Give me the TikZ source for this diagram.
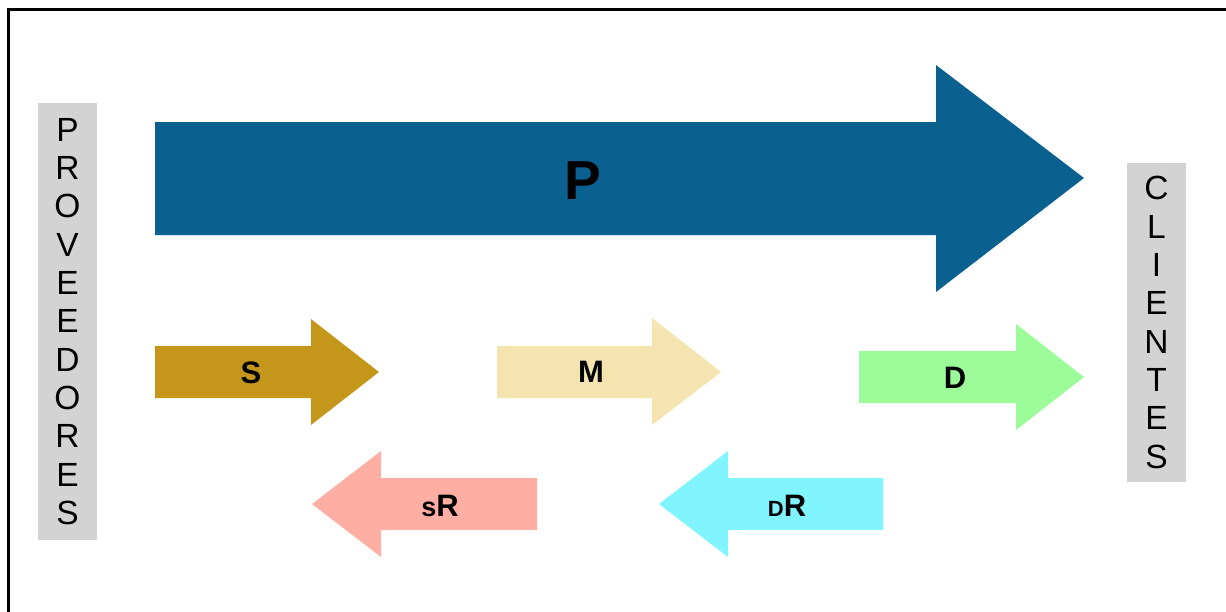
\documentclass[tikz,border=0pt]{standalone}
\usepackage{fontspec}
\setmainfont{Liberation Sans}
\definecolor{pblue}{HTML}{0A6190}
\definecolor{sgold}{HTML}{C4961A}
\definecolor{mwheat}{HTML}{F5E3B0}
\definecolor{dgreen}{HTML}{9CFC9A}
\definecolor{srsalmon}{HTML}{FFAEA4}
\definecolor{drcyan}{HTML}{80F4FF}
\definecolor{sidegray}{HTML}{D3D3D3}
\tikzset{
  sidebox/.style={fill=sidegray, minimum width=59pt, inner sep=0pt, align=center,
    font=\fontsize{33.5}{38.3}\selectfont},
  arrlabel/.style={font=\bfseries\fontsize{31}{36}\selectfont, inner sep=0pt},
}
\begin{document}
\begin{tikzpicture}[x=1pt,y=-1pt]
\useasboundingbox (0,0) rectangle (1226,611);
\clip (0,0) rectangle (1226,611);
% frame
\draw[line width=3pt] (8.5,9.5) rectangle (1240,625);
% side boxes
\node[sidebox, minimum height=437pt] (prov) at (67.5,321.5)
  {P\\R\\O\\V\\E\\E\\D\\O\\R\\E\\S};
\node[sidebox, minimum height=319pt] (cli) at (1156.5,322.5)
  {C\\L\\I\\E\\N\\T\\E\\S};
% process arrow
\fill[pblue] (155,122) -- (936,122) -- (936,65) -- (1084,178) -- (936,292) -- (936,235) -- (155,235) -- cycle;
\node[font=\bfseries\fontsize{55}{60}\selectfont, inner sep=0pt] (p) at (583,181) {P};
% forward flows
\fill[sgold] (155,346) -- (311,346) -- (311,319) -- (379,372) -- (311,425) -- (311,398) -- (155,398) -- cycle;
\node[arrlabel] (s) at (251,373) {S};
\fill[mwheat] (497,346) -- (652,346) -- (652,318) -- (721,372) -- (652,425) -- (652,398) -- (497,398) -- cycle;
\node[arrlabel] (m) at (591,372) {M};
\fill[dgreen] (859,351) -- (1016,351) -- (1016,324) -- (1084,377) -- (1016,430) -- (1016,403) -- (859,403) -- cycle;
\node[arrlabel] (d) at (955,378) {D};
% return flows
\fill[srsalmon] (537,478) -- (381,478) -- (381,451) -- (312,504) -- (381,557) -- (381,530) -- (537,530) -- cycle;
\node[arrlabel] (sr) at (440,506) {{\fontsize{27}{30}\selectfont s}R};
\fill[drcyan] (883,478) -- (728,478) -- (728,451) -- (659,504) -- (728,557) -- (728,530) -- (883,530) -- cycle;
\node[arrlabel] (dr) at (787,506) {{\fontsize{22}{25}\selectfont D}R};
\end{tikzpicture}
\end{document}
